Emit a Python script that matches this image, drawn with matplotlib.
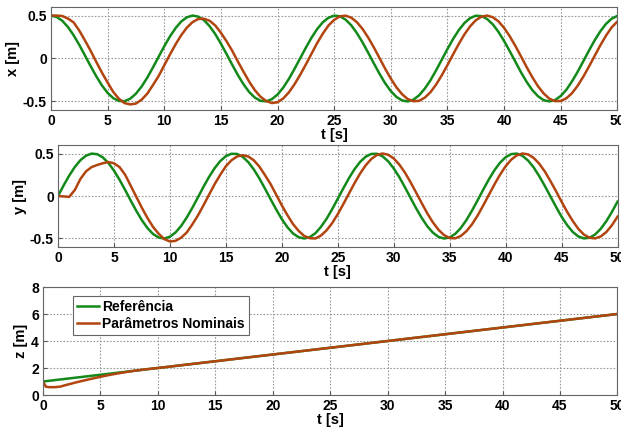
import numpy as np
import matplotlib
matplotlib.use("agg")
import matplotlib.pyplot as plt

t = np.arange(0, 50.5, 0.5)

# x(t), every 0.5 s
x_ref = [0.500, 0.484, 0.439, 0.366, 0.270, 0.158, 0.035, -0.089, -0.208, -0.314,
         -0.401, -0.462, -0.495, -0.497, -0.468, -0.410, -0.327, -0.223, -0.105, 0.019,
         0.142, 0.256, 0.354, 0.431, 0.480, 0.500, 0.488, 0.447, 0.377, 0.285,
         0.173, 0.052, -0.073, -0.193, -0.301, -0.391, -0.456, -0.493, -0.499, -0.474,
         -0.420, -0.340, -0.238, -0.121, 0.002, 0.126, 0.242, 0.343, 0.422, 0.475,
         0.499, 0.492, 0.454, 0.388, 0.297, 0.189, 0.068, -0.056, -0.177, -0.288,
         -0.380, -0.448, -0.489, -0.500, -0.479, -0.429, -0.351, -0.254, -0.138, -0.014,
         0.110, 0.227, 0.330, 0.413, 0.470, 0.498, 0.494, 0.460, 0.398, 0.311,
         0.204, 0.085, -0.038, -0.162, -0.274, -0.369, -0.440, -0.486, -0.500, -0.484,
         -0.437, -0.364, -0.266, -0.154, -0.031, 0.093, 0.212, 0.317, 0.403, 0.464,
         0.496]
x_nom = [0.500, 0.500, 0.495, 0.465, 0.420, 0.325, 0.210, 0.090, -0.040, -0.165,
         -0.280, -0.390, -0.470, -0.520, -0.535, -0.525, -0.480, -0.410, -0.310, -0.205,
         -0.080, 0.045, 0.165, 0.272, 0.360, 0.424, 0.460, 0.463, 0.440, 0.385,
         0.300, 0.200, 0.090, -0.035, -0.155, -0.270, -0.370, -0.446, -0.495, -0.519,
         -0.510, -0.466, -0.395, -0.300, -0.190, -0.070, 0.055, 0.180, 0.290, 0.385,
         0.450, 0.491, 0.499, 0.476, 0.424, 0.345, 0.245, 0.130, 0.006, -0.118,
         -0.234, -0.336, -0.417, -0.473, -0.498, -0.493, -0.456, -0.393, -0.304, -0.196,
         -0.077, 0.048, 0.169, 0.281, 0.374, 0.445, 0.487, 0.500, 0.481, 0.433,
         0.357, 0.259, 0.146, 0.023, -0.102, -0.219, -0.324, -0.408, -0.468, -0.497,
         -0.495, -0.464, -0.404, -0.317, -0.211, -0.093, 0.031, 0.154, 0.266, 0.363,
         0.430]

# y(t), middle panel
y_ref = [0.000, 0.124, 0.240, 0.341, 0.421, 0.474, 0.499, 0.492, 0.455, 0.389,
         0.299, 0.191, 0.071, -0.054, -0.175, -0.286, -0.378, -0.448, -0.489, -0.500,
         -0.479, -0.429, -0.353, -0.254, -0.140, -0.017, 0.108, 0.225, 0.328, 0.411,
         0.469, 0.497, 0.495, 0.461, 0.399, 0.312, 0.206, 0.086, -0.038, -0.159,
         -0.272, -0.367, -0.440, -0.485, -0.500, -0.484, -0.438, -0.363, -0.268, -0.155,
         -0.033, 0.091, 0.210, 0.316, 0.402, 0.463, 0.495, 0.497, 0.467, 0.409,
         0.325, 0.222, 0.103, -0.021, -0.144, -0.257, -0.356, -0.431, -0.481, -0.500,
         -0.488, -0.445, -0.376, -0.282, -0.171, -0.050, 0.075, 0.195, 0.303, 0.392,
         0.456, 0.493, 0.499, 0.473, 0.418, 0.338, 0.234, 0.119, -0.004, -0.126,
         -0.244, -0.343, -0.423, -0.476, -0.499, -0.491, -0.453, -0.386, -0.296, -0.187,
         -0.066]
y_nom = [0.000, -0.005, -0.010, 0.070, 0.200, 0.290, 0.340, 0.365, 0.385, 0.400,
         0.385, 0.340, 0.250, 0.120, -0.010, -0.140, -0.260, -0.365, -0.445, -0.507,
         -0.535, -0.528, -0.490, -0.430, -0.335, -0.230, -0.110, 0.016, 0.140, 0.250,
         0.350, 0.420, 0.465, 0.480, 0.465, 0.420, 0.345, 0.245, 0.140, 0.015,
         -0.110, -0.225, -0.330, -0.410, -0.470, -0.496, -0.500, -0.465, -0.404, -0.319,
         -0.214, -0.095, 0.029, 0.152, 0.265, 0.362, 0.436, 0.483, 0.500, 0.486,
         0.442, 0.370, 0.276, 0.163, 0.041, -0.083, -0.204, -0.310, -0.397, -0.460,
         -0.494, -0.498, -0.470, -0.414, -0.332, -0.229, -0.111, 0.013, 0.136, 0.251,
         0.350, 0.428, 0.478, 0.500, 0.490, 0.449, 0.381, 0.289, 0.177, 0.058,
         -0.067, -0.187, -0.294, -0.387, -0.454, -0.491, -0.499, -0.476, -0.424, -0.344,
         -0.243]

# z(t), bottom panel
tz_ref = [0, 5, 10, 15, 20, 25, 30, 35, 40, 45, 50]
z_ref = [1.0, 1.5, 2.0, 2.5, 3.0, 3.5, 4.0, 4.5, 5.0, 5.5, 6.0]
tz_nom = [0, 0.25, 0.5, 1, 1.5, 2, 3, 4, 5, 6, 7, 8, 9, 10, 15, 20, 25, 30, 35, 40, 45, 50]
z_nom = [1.0, 0.62, 0.58, 0.58, 0.62, 0.74, 0.96, 1.16, 1.35, 1.52, 1.67, 1.8, 1.91, 2.0,
         2.5, 3.0, 3.5, 4.0, 4.5, 5.0, 5.5, 6.0]

green = "#13891a"
brown = "#b2450f"
lw = 1.8

plt.rcParams["font.family"] = ["Liberation Sans", "DejaVu Sans"]
plt.rcParams["font.weight"] = "bold"

fig = plt.figure(figsize=(6.21, 4.28), dpi=100)
ax1 = fig.add_axes([0.0821, 0.743, 0.912, 0.2407])
ax2 = fig.add_axes([0.0934, 0.4229, 0.901, 0.2383])
ax3 = fig.add_axes([0.0692, 0.0771, 0.925, 0.2523])

ax1.plot(t, x_ref, color=green, linewidth=lw)
ax1.plot(t, x_nom, color=brown, linewidth=lw)
ax2.plot(t, y_ref, color=green, linewidth=lw)
ax2.plot(t, y_nom, color=brown, linewidth=lw)
ax3.plot(tz_ref, z_ref, color=green, linewidth=lw, label="Referência")
ax3.plot(tz_nom, z_nom, color=brown, linewidth=lw, label="Parâmetros Nominais")

for ax in (ax1, ax2):
    ax.set_ylim(-0.6, 0.6)
    ax.set_yticks([-0.5, 0, 0.5])
    ax.set_yticklabels(["-0.5", "0", "0.5"])
ax3.set_ylim(0, 8)
ax3.set_yticks([0, 2, 4, 6, 8])

for ax, lab in zip((ax1, ax2, ax3), ("x [m]", "y [m]", "z [m]")):
    ax.set_xlim(0, 50)
    ax.set_xticks(np.arange(0, 51, 5))
    ax.grid(True, color="#999999", linestyle=(0, (1.5, 1.5)), linewidth=0.8)
    ax.tick_params(direction="in", length=3, labelsize=10, color="#555555", pad=3)
    for s in ax.spines.values():
        s.set_color("#666666")
    ax.set_xlabel("t [s]", fontsize=10.5, fontweight="bold", labelpad=0)
    ax.set_ylabel(lab, fontsize=10.5, fontweight="bold", labelpad=2)

leg = ax3.legend(loc="upper left", bbox_to_anchor=(0.052, 0.92), borderaxespad=0,
                 fontsize=10, handlelength=1.6, handletextpad=0.2, borderpad=0.3,
                 labelspacing=0.25, fancybox=False, framealpha=1)
leg.get_frame().set_edgecolor("#666666")
leg.get_frame().set_linewidth(0.8)

plt.savefig("out.png")
